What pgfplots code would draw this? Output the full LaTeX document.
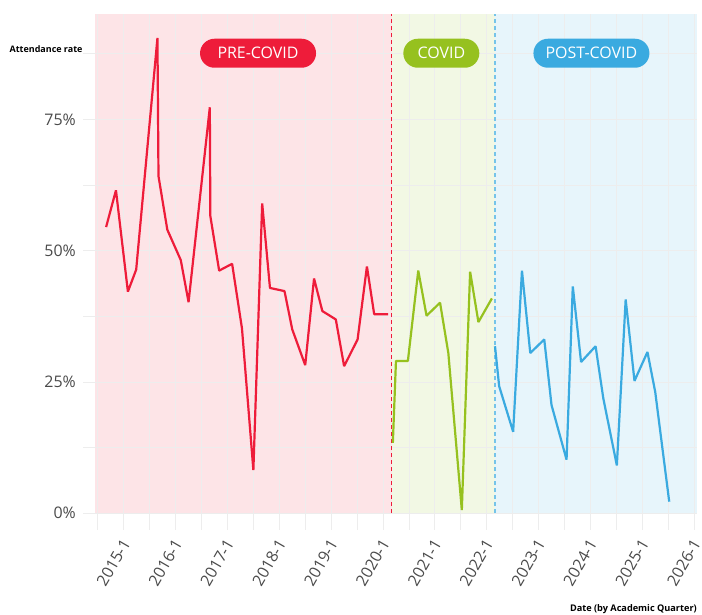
\documentclass[border=0pt]{standalone}
\usepackage{pgfplots}
\pgfplotsset{compat=1.18}
\usepackage{fontspec}
\setmainfont{Open Sans}
\definecolor{cred}{HTML}{EE1C3A}
\definecolor{cgreen}{HTML}{96C11F}
\definecolor{cblue}{HTML}{3AAAE0}
\definecolor{ticklab}{HTML}{4A4A4A}
\begin{document}
\begin{tikzpicture}
\begin{axis}[
  set layers,
  at={(83.3bp,85bp)}, anchor=south west,
  scale only axis,
  width=613.4bp, height=515.6bp,
  xmin=2014.22, xmax=2026.05,
  ymin=-3.2, ymax=95,
  axis line style={draw=none},
  major tick length=0pt, minor tick length=0pt,
  xtick={2015,2016,2017,2018,2019,2020,2021,2022,2023,2024,2025,2026},
  xticklabels={2015-1,2016-1,2017-1,2018-1,2019-1,2020-1,2021-1,2022-1,2023-1,2024-1,2025-1,2026-1},
  minor xtick={2014.5,2015.5,2016.5,2017.5,2018.5,2019.5,2020.5,2021.5,2022.5,2023.5,2024.5,2025.5},
  ytick={0,25,50,75},
  yticklabels={0\%,25\%,50\%,75\%},
  minor ytick={12.5,37.5,62.5,87.5},
  grid=both,
  major grid style={black!7, line width=0.8bp},
  minor grid style={black!7, line width=0.8bp},
  xticklabel style={xshift=2.5bp, yshift=-10.7bp, rotate=60, anchor=east, inner sep=0pt, font=\fontsize{16}{16}\selectfont, text=ticklab},
  yticklabel style={xshift=-4bp, font=\fontsize{16}{16}\selectfont, text=ticklab},
  clip=false,
]
\addplot[on layer=axis background, fill=cred!12, draw=none] coordinates {(2014.45,0) (2014.45,95) (2020.17,95) (2020.17,0)} -- cycle;
\addplot[on layer=axis background, fill=cgreen!12, draw=none] coordinates {(2020.17,0) (2020.17,95) (2022.16,95) (2022.16,0)} -- cycle;
\addplot[on layer=axis background, fill=cblue!12, draw=none] coordinates {(2022.16,0) (2022.16,95) (2026.05,95) (2026.05,0)} -- cycle;
\draw[cred, line width=1bp, dash pattern=on 4bp off 3bp] (axis cs:2020.17,0) -- (axis cs:2020.17,95);
\draw[cblue!70, line width=1.5bp, dash pattern=on 4bp off 3bp] (axis cs:2022.16,0) -- (axis cs:2022.16,95);

\addplot[cred, line width=2.2bp, line join=bevel] coordinates {
(2014.66,54.5) (2014.85,61.5) (2015.08,42.2) (2015.24,46.4) (2015.65,90.5)
(2015.67,64.2) (2015.84,54.0) (2016.10,48.2) (2016.25,40.2) (2016.66,77.3)
(2016.67,56.6) (2016.84,46.2) (2017.09,47.5) (2017.28,35.2) (2017.50,8.2)
(2017.67,59.0) (2017.82,42.9) (2018.10,42.3) (2018.25,35.0) (2018.50,28.2)
(2018.67,44.7) (2018.83,38.5) (2019.09,36.9) (2019.25,28.0) (2019.51,33.1)
(2019.69,47.0) (2019.83,37.9) (2020.10,37.9)
};
\addplot[cgreen, line width=2.2bp, line join=bevel] coordinates {
(2020.19,13.4) (2020.25,29.0) (2020.48,29.0) (2020.68,46.2) (2020.84,37.6)
(2021.10,40.1) (2021.26,30.5) (2021.52,0.6) (2021.68,46.0) (2021.84,36.4)
(2022.10,40.9)
};
\addplot[cblue, line width=2.2bp, line join=bevel] coordinates {
(2022.16,31.8) (2022.24,24.2) (2022.51,15.5) (2022.68,46.2) (2022.84,30.5)
(2023.11,33.1) (2023.25,20.6) (2023.54,10.2) (2023.66,43.2) (2023.82,28.8)
(2024.10,31.8) (2024.25,21.8) (2024.51,9.1) (2024.68,40.7) (2024.85,25.2)
(2025.10,30.7) (2025.25,23.1) (2025.52,2.2)
};

\node[fill=cred, text=white, rounded corners=14.5bp, minimum width=116bp, minimum height=29bp, inner sep=0pt, font=\fontsize{16}{16}\selectfont] at (axis cs:2017.59,87.6) {PRE-COVID};
\node[fill=cgreen, text=white, rounded corners=14.5bp, minimum width=76bp, minimum height=29bp, inner sep=0pt, font=\fontsize{16}{16}\selectfont] at (axis cs:2021.125,87.6) {COVID};
\node[fill=cblue, text=white, rounded corners=14.5bp, minimum width=116bp, minimum height=29bp, inner sep=0pt, font=\fontsize{16}{16}\selectfont] at (axis cs:2024.02,87.6) {POST-COVID};
\end{axis}
\node[anchor=east, font=\fontsize{9}{10}\selectfont\bfseries, inner sep=0pt] at (82.7bp,565.7bp) {Attendance rate};
\node[anchor=east, font=\fontsize{9.2}{10}\selectfont\bfseries, inner sep=0pt] at (697bp,5.5bp) {Date (by Academic Quarter)};
\pgfresetboundingbox
\path[use as bounding box] (0,0) rectangle (702bp,615bp);
\end{tikzpicture}
\end{document}
